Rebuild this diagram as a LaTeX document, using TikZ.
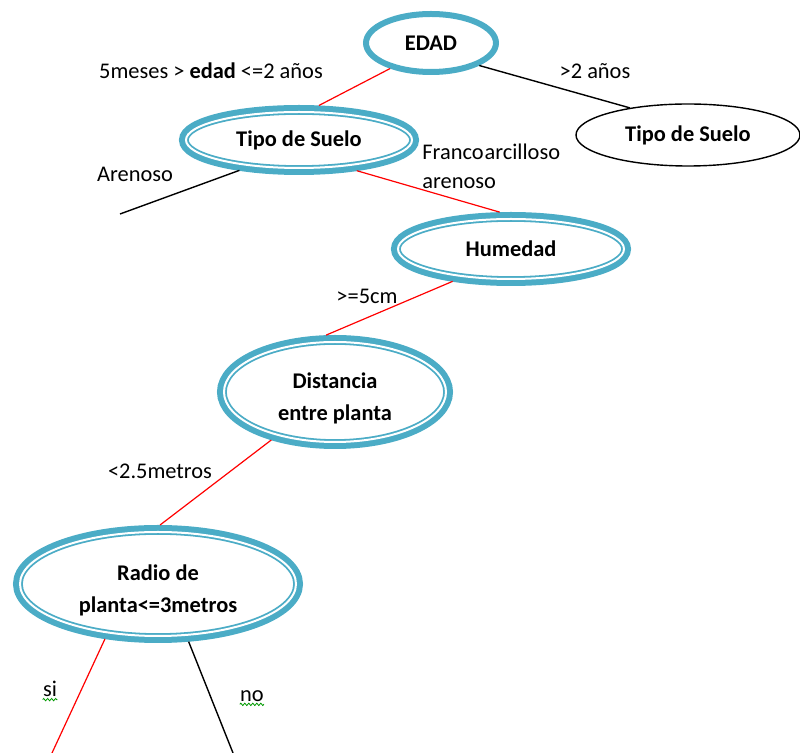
\documentclass[tikz,border=0pt]{standalone}
\usepackage{fontspec}
\setmainfont{Carlito}
\usetikzlibrary{shapes.geometric,decorations.pathmorphing}
\definecolor{aqua}{HTML}{4BACC6}
\newcommand{\twolines}[2]{\raisebox{-6pt}[0pt][0pt]{\begin{tabular}{@{}c@{}}#1\\#2\end{tabular}}}

\begin{document}
\begin{tikzpicture}[x=0.5pt, y=-0.5pt,
    font=\fontsize{11.2pt}{16pt}\selectfont,
    ring/.style={ellipse, draw=aqua, line width=3pt, inner sep=0pt, align=center, font=\fontsize{11.2pt}{16pt}\selectfont\bfseries},
    dring/.style={ellipse, draw=aqua, fill=white, line width=0.9pt, double=white, double distance=1pt, preaction={draw=aqua, line width=7pt}, outer sep=3.5pt, inner sep=0pt, align=center, font=\fontsize{11.2pt}{16pt}\selectfont\bfseries},
    thinring/.style={ellipse, draw, line width=0.7pt, inner sep=0pt, align=center, font=\fontsize{11.2pt}{16pt}\selectfont\bfseries},
    lbl/.style={inner sep=0pt},
    redline/.style={draw=red, line width=0.6pt},
    blackline/.style={draw=black, line width=0.7pt},
    wavy/.style={draw=green!60!black, line width=0.4pt, decorate, decoration={zigzag, segment length=2pt, amplitude=0.6pt}}]
    \useasboundingbox (0,0) rectangle (800,753);

    % Nodes
    \node[ring, minimum width=65pt, minimum height=29pt] (edad) at (431,43) {EDAD};
    \node[dring, minimum width=113pt, minimum height=28pt] (tipoA) at (299,140) {Tipo de Suelo};
    \node[thinring, minimum width=112pt, minimum height=31pt] (tipoB) at (688,135) {Tipo de Suelo};
    \node[dring, minimum width=113pt, minimum height=30pt] (hum) at (511,249) {Humedad};
    \node[dring, minimum width=111pt, minimum height=50pt] (dist) at (335,392) {\twolines{Distancia}{entre planta}};
    \node[dring, minimum width=138pt, minimum height=52pt] (radio) at (158,584) {\twolines{Radio de}{planta<=3metros}};

    % Free ends
    \coordinate (endA) at (120,214);
    \coordinate (endsi) at (52,753);
    \coordinate (endno) at (233,753);

    % Labels
    \node[lbl] (lbedad) at (211,71) {5meses > \textbf{edad} <=2 años};
    \node[lbl] (lbmas) at (595,71) {>2 años};
    \node[lbl] (lbaren) at (135,174) {Arenoso};
    \node[lbl, anchor=west, align=left, font=\fontsize{11.2pt}{14.5pt}\selectfont] (lbfranco) at (422,166) {Franco\kern0.5pt arcilloso\\arenoso};
    \node[lbl] (lbhum) at (367,296) {>=5cm};
    \node[lbl] (lbdist) at (160,471) {<2.5metros};
    \node[lbl] (lbsi) at (50,689) {si};
    \node[lbl] (lbno) at (252,696) {no};
    \draw[wavy] ([yshift=-1.5pt]lbsi.base west) -- ([yshift=-1.5pt]lbsi.base east);
    \draw[wavy] ([yshift=-1.5pt]lbno.base west) -- ([yshift=-1.5pt]lbno.base east);

    % Branches
    \draw[redline] (edad.212) -- (tipoA.60);
    \draw[blackline] (edad.335) -- (tipoB.155);
    \draw[blackline] (tipoA.207) -- (endA);
    \draw[redline] (tipoA.332) -- (hum.107);
    \draw[redline] (hum.209) -- (dist.99);
    \draw[redline] (dist.217) -- (radio.88);
    \draw[redline] (radio.226) -- (endsi);
    \draw[blackline] (radio.298) -- (endno);
\end{tikzpicture}
\end{document}
